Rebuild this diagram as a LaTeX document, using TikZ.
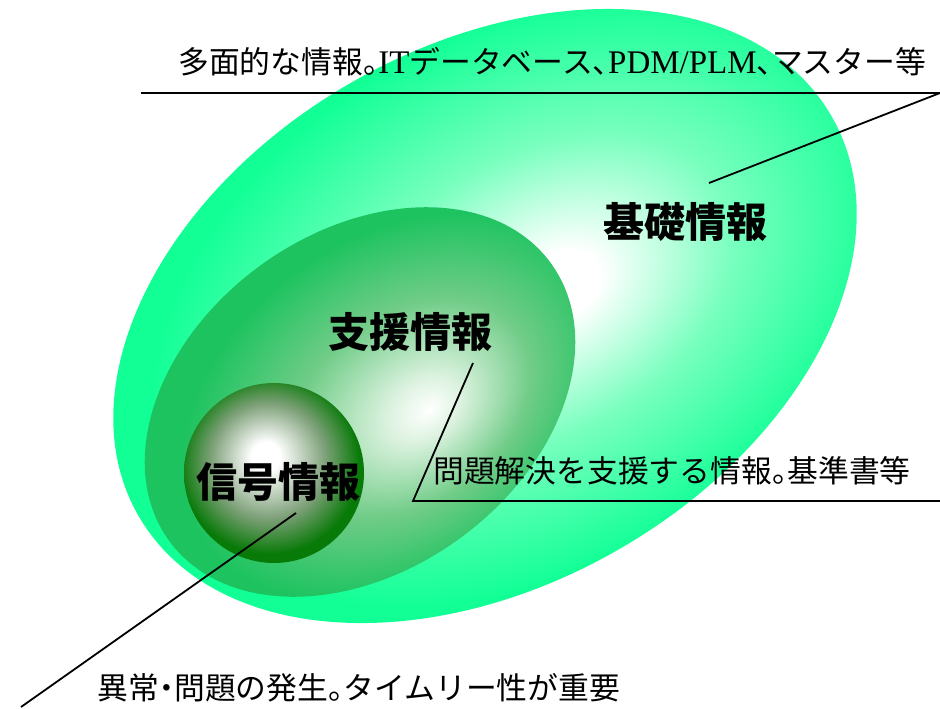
\documentclass[tikz,border=0pt]{standalone}
\usepackage{fontspec}
\setmainfont{Liberation Serif}
\newfontfamily\jp{Noto Sans CJK JP}
\newfontfamily\lat{Liberation Serif}
\definecolor{bigG}{RGB}{18,255,150}
\definecolor{bigM}{RGB}{120,255,190}
\definecolor{midG}{RGB}{28,195,95}
\definecolor{midM}{RGB}{112,204,135}
\definecolor{midL}{RGB}{222,243,225}
\definecolor{smlG}{RGB}{8,122,8}
\definecolor{smlM}{RGB}{125,160,120}
\pgfdeclareradialshading{bigshade}{\pgfpoint{5bp}{-1bp}}{color(0bp)=(white); color(3bp)=(white); color(13bp)=(bigM); color(25bp)=(bigG); color(50bp)=(bigG)}
\pgfdeclareradialshading{midshade}{\pgfpoint{5.5bp}{-7bp}}{color(0bp)=(white); color(4bp)=(midL); color(14bp)=(midM); color(25bp)=(midG); color(50bp)=(midG)}
\pgfdeclareradialshading{smlshade}{\pgfpoint{-2.5bp}{5bp}}{color(0bp)=(white); color(4bp)=(white); color(16bp)=(smlM); color(25bp)=(smlG); color(50bp)=(smlG)}
\newcommand{\hw}[1]{\makebox[0.5em][l]{#1}}
\newcommand{\hc}[1]{\makebox[0.5em][c]{#1}}
\tikzset{
  label/.style={font={\jp\bfseries\fontsize{41pt}{45pt}\selectfont}, inner sep=0pt},
  note/.style={font={\jp\fontsize{30.8pt}{34pt}\selectfont}, inner sep=0pt, anchor=west},
  leader/.style={draw=black, line width=1.8pt}
}
\begin{document}
\begin{tikzpicture}[x=1pt,y=-1pt]
\useasboundingbox (0,0) rectangle (940,709);
\fill[white] (0,0) rectangle (940,709);
% big ellipse
\begin{scope}[transform canvas={shift={(485,316)}, rotate=30}]
  \shade[shading=bigshade] (0,0) ellipse [x radius=400, y radius=269];
\end{scope}
% medium ellipse
\begin{scope}[transform canvas={shift={(360,402)}, rotate=36}]
  \shade[shading=midshade] (0,0) ellipse [x radius=236, y radius=169];
\end{scope}
% small circle
\shade[shading=smlshade] (274,473) circle (90);
% labels
\node[label] (kiso) at (685,222) {基礎情報};
\node[label] (shien) at (410,332) {支援情報};
\node[label] (shingo) at (278,482) {信号情報};
% notes
\node[note] (n1) at (178,62) {多面的な情報\hw{。}{\lat\fontsize{33pt}{34pt}\selectfont IT}データベース\hw{、}{\lat\fontsize{33pt}{34pt}\selectfont PDM/PLM}\hw{、}マスター等};
\node[note] (n2) at (433,471) {問題解決を支援する情報\hw{。}基準書等};
\node[note] (n3) at (97,688) {異常\hc{・}問題の発生\hw{。}タイムリー性が重要};
% leader lines
\coordinate (a1) at (141,93);
\coordinate (a2) at (940,93);
\coordinate (a3) at (709,183);
\coordinate (b1) at (940,501);
\coordinate (b2) at (413,501);
\coordinate (b3) at (473,363);
\coordinate (c1) at (296,513);
\coordinate (c2) at (21,707);
\draw[leader] (a1) -- (a2) -- (a3);
\draw[leader] (b1) -- (b2) -- (b3);
\draw[leader] (c1) -- (c2);
\end{tikzpicture}
\end{document}
